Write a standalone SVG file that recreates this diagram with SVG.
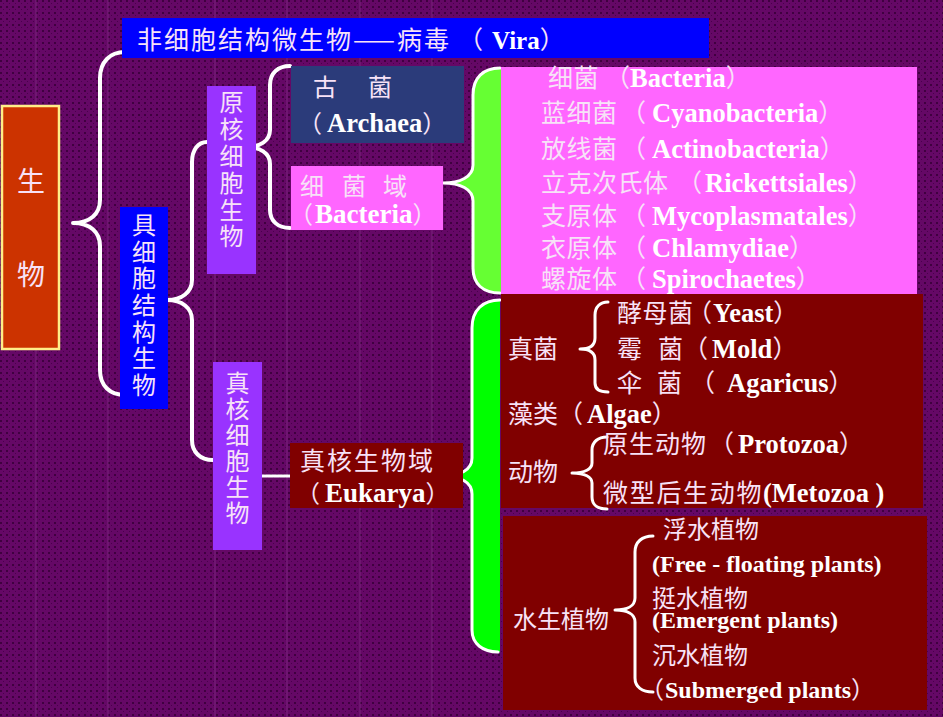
<svg xmlns="http://www.w3.org/2000/svg" width="943" height="717" viewBox="0 0 943 717">
<defs>
<pattern id="bg" width="6" height="6" patternUnits="userSpaceOnUse">
<rect width="6" height="6" fill="#650866"/>
<rect x="0" y="0" width="2" height="2" fill="#400040"/>
<rect x="3" y="3" width="1" height="1" fill="#4a004c"/>
</pattern>
<style>
.zh{font-family:"Noto Sans CJK SC","Noto Sans CJK TC",sans-serif;fill:#f7e2f7;font-size:25px}
.en{font-family:"Liberation Serif","Times New Roman",serif;font-weight:bold;fill:#ffffff;font-size:26.5px;letter-spacing:0}
.vt{font-size:24px;text-anchor:middle}
.brace{fill:none;stroke:#ffffff;stroke-width:4;stroke-linecap:round;stroke-linejoin:round}
.sbrace{fill:none;stroke:#ffffff;stroke-width:3;stroke-linecap:round;stroke-linejoin:round}
.gl{stroke:#8c3c8e;stroke-width:1;opacity:0.55}
</style>
</defs>
<rect width="943" height="717" fill="url(#bg)"/>
<g id="bg-lines" class="gl">
<line x1="36" y1="0" x2="36" y2="717"/>
<line x1="108" y1="0" x2="108" y2="717"/>
<line x1="215" y1="0" x2="215" y2="717"/>
<line x1="287" y1="0" x2="287" y2="717"/>
<line x1="360" y1="0" x2="360" y2="717"/>
<line x1="432" y1="0" x2="432" y2="717"/>
</g>

<g id="connectors">
<path d="M502,68 L500,68 C483,68 473,78 473,95 L473,165 C473,177 460,183 443,183 C460,183 473,189 473,201 L473,268 C473,284 483,293 500,293 L502,293 Z" fill="#66ff33"/>
<path class="sbrace" d="M500,68 C483,68 473,78 473,95 L473,165 C473,177 460,183 443,183 C460,183 473,189 473,201 L473,268 C473,284 483,293 500,293"/>
<path d="M500,300 C483,300 472,310 472,328 L472,458 C472,470 460,476 443,476 C460,476 472,482 472,494 L472,630 C472,644 483,652 498,652 L500,652 Z" fill="#00ff00"/>
<path class="sbrace" d="M500,300 C483,300 472,310 472,328 L472,458 C472,470 460,476 443,476 C460,476 472,482 472,494 L472,630 C472,644 483,652 498,652"/>
<path class="brace" d="M125,52 C110,52 100,62 100,78 L100,200 C100,214 90,223 73,223 C90,223 100,232 100,246 L100,370 C100,386 110,395 125,395"/>
<path class="brace" d="M207,142 C198,142 192,150 192,162 L192,280 C192,292 182,300 167,300 C182,300 192,308 192,320 L192,440 C192,452 200,460 213,460"/>
<path class="brace" d="M290,66 C278,66 270,73 270,85 L270,130 C270,141 260,147 246,147 C260,147 270,153 270,164 L270,210 C270,221 278,228 290,228"/>
<line x1="262" y1="476" x2="290" y2="476" stroke="#ffffff" stroke-width="3"/>
</g>

<g id="n-virus">
<rect x="122" y="18" width="587" height="40" fill="#0000ff"/>
<text class="zh" x="137" y="49" letter-spacing="2">非细胞结构微生物——病毒<tspan x="458">（</tspan><tspan class="en" x="492" style="font-size:25px">Vira</tspan>）</text>
</g>

<g id="n-life">
<rect x="2" y="106" width="57" height="243" fill="#cc3300" stroke="#ffee88" stroke-width="2.5"/>
<text class="zh" x="31" y="192" style="font-size:28px" text-anchor="middle">生</text>
<text class="zh" x="31" y="285" style="font-size:28px" text-anchor="middle">物</text>
</g>

<g id="n-cellular">
<rect x="120" y="207" width="48" height="202" fill="#0000ff"/>
<text class="zh vt"><tspan x="144" y="234">具</tspan><tspan x="144" y="261">细</tspan><tspan x="144" y="287">胞</tspan><tspan x="144" y="314">结</tspan><tspan x="144" y="341">构</tspan><tspan x="144" y="367">生</tspan><tspan x="144" y="394">物</tspan></text>
</g>

<g id="n-prokaryote">
<rect x="207" y="86" width="49" height="188" fill="#9933ff"/>
<text class="zh vt"><tspan x="231.5" y="111">原</tspan><tspan x="231.5" y="138">核</tspan><tspan x="231.5" y="165">细</tspan><tspan x="231.5" y="192">胞</tspan><tspan x="231.5" y="219">生</tspan><tspan x="231.5" y="245">物</tspan></text>
</g>

<g id="n-eukaryote">
<rect x="213" y="362" width="49" height="188" fill="#9933ff"/>
<text class="zh vt"><tspan x="237.5" y="392">真</tspan><tspan x="237.5" y="418">核</tspan><tspan x="237.5" y="444">细</tspan><tspan x="237.5" y="470">胞</tspan><tspan x="237.5" y="496">生</tspan><tspan x="237.5" y="522">物</tspan></text>
</g>

<g id="n-archaea">
<rect x="291" y="66" width="173" height="77" fill="#2b3b7a"/>
<text class="zh" x="313 340 368" y="96" style="font-size:24px">古　菌</text>
<text class="zh" x="298" y="132" style="font-size:24px">（<tspan class="en" x="327" style="font-size:26.5px">Archaea</tspan>）</text>
</g>

<g id="n-bacteria-domain">
<rect x="291" y="166" width="152" height="64" fill="#ff66ff"/>
<text class="zh" x="300 324 342 366 383" y="195" style="font-size:24px">细 菌 域</text>
<text class="zh" x="289" y="223" style="font-size:24px">（<tspan class="en" x="315" style="font-size:27px">Bacteria</tspan>）</text>
</g>

<g id="n-eukarya-domain">
<rect x="290" y="443" width="173" height="65" fill="#800000"/>
<text class="zh" x="300" y="470" letter-spacing="2">真核生物域</text>
<text class="zh" x="296" y="502" style="font-size:24px">（<tspan class="en" x="325" style="font-size:27px">Eukarya</tspan>）</text>
</g>

<g id="n-bacteria-list">
<rect x="501" y="67" width="416" height="227" fill="#ff66ff"/>
<text class="zh" x="548" y="87" letter-spacing="0.5">细菌 （<tspan class="en" x="630">Bacteria</tspan>）</text>
<text class="zh" x="541" y="122" letter-spacing="0.5">蓝细菌<tspan x="621">（</tspan><tspan class="en" x="652">Cyanobacteria</tspan>）</text>
<text class="zh" x="541" y="158" letter-spacing="0.5">放线菌<tspan x="621">（</tspan><tspan class="en" x="652">Actinobacteria</tspan>）</text>
<text class="zh" x="541" y="192" letter-spacing="0.5">立克次氏体<tspan x="677">（</tspan><tspan class="en" x="705">Rickettsiales</tspan>）</text>
<text class="zh" x="541" y="225" letter-spacing="0.5">支原体<tspan x="621">（</tspan><tspan class="en" x="652">Mycoplasmatales</tspan>）</text>
<text class="zh" x="541" y="257" letter-spacing="0.5">衣原体<tspan x="621">（</tspan><tspan class="en" x="652">Chlamydiae</tspan>）</text>
<text class="zh" x="541" y="288" letter-spacing="0.5">螺旋体<tspan x="621">（</tspan><tspan class="en" x="652">Spirochaetes</tspan>）</text>
</g>

<g id="n-eukarya-list">
<rect x="501" y="294" width="422" height="214" fill="#800000"/>
<path class="sbrace" d="M608,302 C600,302 595,307 595,315 L595,338 C595,345 590,349 580,349 C590,349 595,353 595,360 L595,383 C595,390 600,392 608,392"/>
<path class="sbrace" d="M607,437 C598,437 592,442 592,450 L592,463 C592,469 585,473 572,473 C585,473 592,477 592,483 L592,497 C592,505 598,509 607,509"/>
<text class="zh" x="508" y="358">真菌</text>
<text class="zh" x="617" y="322" letter-spacing="0.5">酵母菌<tspan x="687">（</tspan><tspan class="en" x="713">Yeast</tspan>）</text>
<text class="zh" x="617 642 658" y="358">霉　菌（<tspan class="en" x="712">Mold</tspan>）</text>
<text class="zh" x="617 642 657" y="392">伞　菌<tspan x="690">（</tspan> <tspan class="en" x="727">Agaricus</tspan>）</text>
<text class="zh" x="508" y="423">藻类（<tspan class="en" x="587">Algae</tspan>）</text>
<text class="zh" x="508" y="481">动物</text>
<text class="zh" x="603" y="453" letter-spacing="1">原生动物<tspan x="709">（</tspan><tspan class="en" x="738">Protozoa</tspan>）</text>
<text class="zh" x="603" y="502" letter-spacing="1.7">微型后生动物<tspan class="en" x="763">(Metozoa )</tspan></text>
</g>

<g id="n-aquatic-plants">
<rect x="503" y="516" width="424" height="194" fill="#800000"/>
<path class="sbrace" d="M653,536 C642,536 635,542 635,552 L635,598 C635,606 627,610 615,610 C627,610 635,614 635,622 L635,678 C635,687 642,692 653,692"/>
<text class="zh" x="513" y="628" style="font-size:24px">水生植物</text>
<text class="zh" x="663" y="538" style="font-size:24px">浮水植物</text>
<text class="en" x="652" y="572" style="font-size:24px">(Free - floating plants)</text>
<text class="zh" x="652" y="607" style="font-size:24px">挺水植物</text>
<text class="en" x="652" y="628" style="font-size:24px">(Emergent plants)</text>
<text class="zh" x="652" y="664" style="font-size:24px">沉水植物</text>
<text class="zh" x="640" y="698" style="font-size:24px">（<tspan class="en" x="665" style="font-size:24px">Submerged plants</tspan>）</text>
</g>
</svg>
